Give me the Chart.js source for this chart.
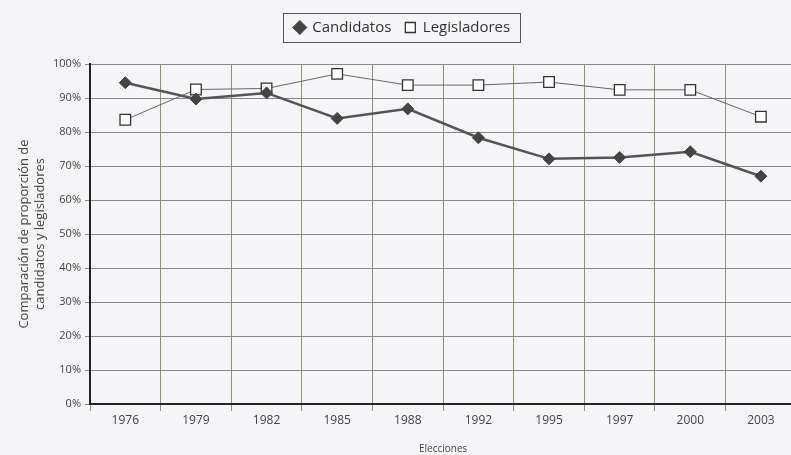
<!DOCTYPE html>
<html>
<head>
<meta charset="utf-8">
<script src="https://cdn.jsdelivr.net/npm/chart.js@4/dist/chart.umd.min.js"></script>
<style>
  html, body { margin: 0; padding: 0; background: #f5f5f7; overflow: hidden; }
  #wrap { width: 805px; height: 455px; }
</style>
</head>
<body>
<div id="wrap"><canvas id="chart"></canvas></div>
<script>
const years = ['1976', '1979', '1982', '1985', '1988', '1992', '1995', '1997', '2000', '2003']
const candidatos = [94.5, 89.7, 91.5, 84.0, 86.8, 78.3, 72.1, 72.5, 74.2, 67.0]
const legisladores = [83.6, 92.5, 92.8, 97.1, 93.8, 93.8, 94.7, 92.4, 92.4, 84.5]
const yTicks = [0, 10, 20, 30, 40, 50, 60, 70, 80, 90, 100]

const font = "'Open Sans', 'DejaVu Sans', sans-serif"

// frame around the legend, plus extra room under it
const legendBox = {
  id: 'legendBox',
  beforeUpdate (chart) {
    const lg = chart.legend
    if (lg && !lg._patched) {
      const fit = lg.fit.bind(lg)
      lg.fit = function () { fit(); this.height += 19 }
      lg._patched = true
    }
  },
  afterDraw (chart) {
    const boxes = chart.legend.legendHitBoxes
    if (!boxes || !boxes.length) return
    const left = Math.min(...boxes.map(b => b.left)) - 12
    const right = Math.max(...boxes.map(b => b.left + b.width)) + 10
    const top = Math.min(...boxes.map(b => b.top)) - 7
    const bottom = Math.max(...boxes.map(b => b.top + b.height)) + 7
    const ctx = chart.ctx
    ctx.save()
    ctx.strokeStyle = '#555'
    ctx.lineWidth = 1
    ctx.strokeRect(Math.round(left) + 0.5, Math.round(top) + 0.5, Math.round(right - left), Math.round(bottom - top))
    ctx.restore()
  }
}

const chart = document.querySelector('#chart').getContext('2d')

new Chart(chart, {
  type: 'line',
  data: {
    labels: years,
    datasets: [
      {
        label: 'Candidatos',
        data: candidatos,
        borderColor: '#555',
        borderWidth: 2.5,
        pointStyle: 'rectRot',
        pointRadius: 6,
        pointBackgroundColor: '#444',
        pointBorderColor: '#444',
        pointBorderWidth: 1
      },
      {
        label: 'Legisladores',
        data: legisladores,
        borderColor: '#666',
        borderWidth: 1,
        pointStyle: 'rect',
        pointRadius: 7.5,
        pointBackgroundColor: '#fff',
        pointBorderColor: '#333',
        pointBorderWidth: 1.3
      }
    ]
  },
  options: {
    responsive: true,
    maintainAspectRatio: false,
    animation: false,
    layout: { padding: { top: 6, left: 0, right: 0, bottom: 0 } },
    plugins: {
      tooltip: { enabled: false },
      legend: {
        position: 'top',
        labels: {
          usePointStyle: true,
          boxWidth: 10,
          boxHeight: 10,
          padding: 14,
          color: '#333',
          font: { family: font, size: 15 }
        }
      }
    },
    scales: {
      x: {
        offset: true,
        grid: {
          offset: true,
          color: '#8f9170',
          lineWidth: 1,
          tickLength: 7
        },
        border: { color: '#222', width: 2 },
        ticks: { color: '#444', font: { family: font, size: 12 }, padding: 2 },
        title: {
          display: true,
          text: 'Elecciones',
          color: '#444',
          font: { family: font, size: 10 },
          padding: { top: 14, bottom: 0 }
        },
        afterFit (scale) { scale.height = 51 }
      },
      y: {
        min: 0,
        max: 100,
        afterBuildTicks (scale) { scale.ticks = yTicks.map(v => ({ value: v })) },
        grid: { color: '#888', lineWidth: 1, tickLength: 5 },
        border: { color: '#222', width: 2 },
        ticks: {
          color: '#444',
          font: { family: font, size: 11 },
          padding: 4,
          callback: v => v + '%'
        },
        title: {
          display: true,
          text: ['Comparación de proporción de', 'candidatos y legisladores'],
          color: '#444',
          font: { family: font, size: 13, lineHeight: 1.25 },
          padding: { top: 16, bottom: 8 }
        },
        afterFit (scale) { scale.width = 90 }
      }
    }
  },
  plugins: [legendBox]
})
</script>
</body>
</html>
